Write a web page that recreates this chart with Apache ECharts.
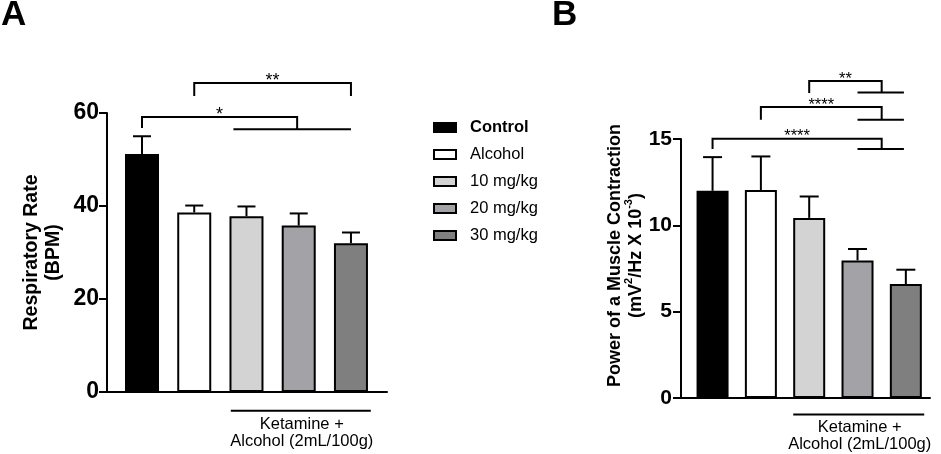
<!DOCTYPE html>
<html>
<head>
<meta charset="utf-8">
<script src="https://cdn.jsdelivr.net/npm/echarts@6/dist/echarts.min.js"></script>
<style>
html,body{margin:0;padding:0;background:#fff;}
#chart{width:941px;height:454px;}
</style>
</head>
<body>
<div id="chart"></div>
<script>
// ---------- data ----------
const categories = ['Control', 'Alcohol', '10 mg/kg', '20 mg/kg', '30 mg/kg'];
const respMean = [51.2, 38.6, 37.8, 35.8, 32.0];
const respSem = [3.8, 1.5, 2.1, 2.6, 2.3];
const powerMean = [12.0, 12.04, 10.43, 7.97, 6.6];
const powerSem = [1.95, 1.95, 1.24, 0.66, 0.83];
const respAxis = { min: 0, max: 60, interval: 20 };
const powerAxis = { min: 0, max: 15, interval: 5 };

// significance brackets (x in category index units, y in axis units)
const respBracketLeft = [1, 0];
const respBracketRight = [4, 2.97];
const respBracketTop = [66.45, 59.14];
const respBracketLeftEnd = [63.66, 56.77];
const respBracketRightEnd = [63.66, 56.5];
const respSubFrom = [null, 1.75];
const respSubTo = [null, 4.0];
const respBracketLabels = ['**', '*'];

const powerBracketLeft = [2, 1, 0];
const powerBracketRight = [3.5, 3.5, 3.5];
const powerBracketTop = [18.36, 16.85, 15.01];
const powerBracketLeftEnd = [17.67, 16.12, 14.42];
const powerBracketRightEnd = [17.70, 16.12, 14.42];
const powerSubFrom = [3, 3, 3];
const powerSubTo = [3.96, 3.96, 3.96];
const powerBracketLabels = ['**', '****', '****'];

const groupLabelText = 'Ketamine +\nAlcohol (2mL/100g)';
const respGroup = [1.70, 4.38, -4.02];
const powerGroup = [1.67, 4.38, -0.95];

// ---------- style ----------
const FONT = '"Liberation Sans", Arial, Helvetica, sans-serif';
const barColors = ['#000000', '#ffffff', '#d3d3d3', '#a3a2a6', '#7f7f7f'];

function errorSeries(g, means, sems, cap) {
  return {
    type: 'custom', xAxisIndex: g, yAxisIndex: g, z: 5, silent: true,
    encode: { x: 0, y: 1 },
    data: means.map((m, i) => [i, m, sems[i]]),
    renderItem: function (params, api) {
      const x = api.value(0), m = api.value(1), s = api.value(2);
      const p0 = api.coord([x, m]);
      const p1 = api.coord([x, m + s]);
      const st = { stroke: '#000', lineWidth: 2 };
      return {
        type: 'group', children: [
          { type: 'line', shape: { x1: p0[0], y1: p0[1], x2: p1[0], y2: p1[1] }, style: st },
          { type: 'line', shape: { x1: p1[0] - cap, y1: p1[1], x2: p1[0] + cap, y2: p1[1] }, style: st }
        ]
      };
    }
  };
}

function bracketSeries(g, L, R, T, LE, RE, SF, ST, labels, fs) {
  return {
    type: 'custom', xAxisIndex: g, yAxisIndex: g, z: 6, silent: true, clip: false,
    encode: { x: 0, y: 1 },
    data: L.map((l, i) => [l, T[i]]),
    renderItem: function (params, api) {
      const i = params.dataIndex;
      const a = api.coord([L[i], LE[i]]);
      const b = api.coord([L[i], T[i]]);
      const c = api.coord([R[i], T[i]]);
      const d = api.coord([R[i], RE[i]]);
      const st = { stroke: '#000', lineWidth: 2, fill: null };
      const children = [
        { type: 'polyline', shape: { points: [a, b, c, d] }, style: st }
      ];
      if (SF[i] !== null) {
        const e = api.coord([SF[i], RE[i]]);
        const f = api.coord([ST[i], RE[i]]);
        children.push({ type: 'line', shape: { x1: e[0], y1: e[1], x2: f[0], y2: f[1] }, style: st });
      }
      children.push({
        type: 'text',
        style: {
          text: labels[i], x: (b[0] + c[0]) / 2, y: b[1] - 2,
          align: 'center', verticalAlign: 'middle',
          fontSize: fs, fontFamily: FONT, fill: '#000'
        }
      });
      return { type: 'group', children: children };
    }
  };
}

function groupLabelSeries(g, grp) {
  return {
    type: 'custom', xAxisIndex: g, yAxisIndex: g, z: 6, silent: true, clip: false,
    encode: { x: 0, y: 2 },
    data: [grp],
    renderItem: function (params, api) {
      const a = api.coord([api.value(0), api.value(2)]);
      const b = api.coord([api.value(1), api.value(2)]);
      return {
        type: 'group', children: [
          { type: 'line', shape: { x1: a[0], y1: a[1], x2: b[0], y2: b[1] }, style: { stroke: '#000', lineWidth: 2 } },
          {
            type: 'text',
            style: {
              text: groupLabelText, x: (a[0] + b[0]) / 2 + 1, y: a[1] + 5,
              align: 'center', verticalAlign: 'top', lineHeight: 17,
              fontSize: 16.5, fontFamily: FONT, fill: '#000'
            }
          }
        ]
      };
    }
  };
}

const series = [];
[[respMean, 34], [powerMean, 32]].forEach(([means, bw], g) => {
  categories.forEach((name, k) => {
    series.push({
      name: name, type: 'bar', xAxisIndex: g, yAxisIndex: g,
      barWidth: bw, barGap: '-100%',
      data: [[k, means[k]]],
      itemStyle: { color: barColors[k], borderColor: '#000', borderWidth: 2 },
      silent: true
    });
  });
});
series.push(errorSeries(0, respMean, respSem, 9));
series.push(errorSeries(1, powerMean, powerSem, 9.5));
series.push(bracketSeries(0, respBracketLeft, respBracketRight, respBracketTop, respBracketLeftEnd, respBracketRightEnd, respSubFrom, respSubTo, respBracketLabels, 18));
series.push(bracketSeries(1, powerBracketLeft, powerBracketRight, powerBracketTop, powerBracketLeftEnd, powerBracketRightEnd, powerSubFrom, powerSubTo, powerBracketLabels, 16.5));
series.push(groupLabelSeries(0, respGroup));
series.push(groupLabelSeries(1, powerGroup));

const yAxisCommon = {
  type: 'value',
  splitLine: { show: false },
  axisLine: { show: true, onZero: false, lineStyle: { color: '#000', width: 2 } },
  axisTick: { show: true, length: 8, lineStyle: { color: '#000', width: 2 } },
  nameLocation: 'middle', nameRotate: 90
};
const xAxisCommon = {
  type: 'value',
  splitLine: { show: false },
  axisLine: { show: true, onZero: false, lineStyle: { color: '#000', width: 2 } },
  axisTick: { show: false },
  axisLabel: { show: false }
};

const option = {
  animation: false,
  backgroundColor: '#fff',
  title: [
    { text: 'A', left: 1, top: 0, padding: 0, textStyle: { fontSize: 35, fontWeight: 'bold', fontFamily: FONT, color: '#000', lineHeight: 30 } },
    { text: 'B', left: 552, top: 0, padding: 0, textStyle: { fontSize: 35, fontWeight: 'bold', fontFamily: FONT, color: '#000', lineHeight: 30 } }
  ],
  legend: {
    orient: 'vertical', left: 433, top: 118, padding: 0,
    itemWidth: 22, itemHeight: 9, itemGap: 8,
    icon: 'rect',
    data: categories,
    selectedMode: false,
    formatter: function (name) { return name === 'Control' ? '{b|' + name + '}' : '{n|' + name + '}'; },
    textStyle: {
      color: '#000', fontFamily: FONT, fontSize: 16.5, lineHeight: 19, padding: [0, 0, 0, 9],
      rich: {
        b: { fontWeight: 'bold', fontSize: 16.5, fontFamily: FONT, color: '#000', lineHeight: 19 },
        n: { fontSize: 16.5, fontFamily: FONT, color: '#000', lineHeight: 19 }
      }
    }
  },
  grid: [
    { left: 107, top: 113, width: 280, height: 279 },
    { left: 681, top: 139, width: 249, height: 259 }
  ],
  xAxis: [
    Object.assign({}, xAxisCommon, { gridIndex: 0, min: -0.67, max: 4.69 }),
    Object.assign({}, xAxisCommon, { gridIndex: 1, min: -0.653, max: 4.5 })
  ],
  yAxis: [
    Object.assign({}, yAxisCommon, {
      gridIndex: 0, min: respAxis.min, max: respAxis.max, interval: respAxis.interval,
      axisLabel: { color: '#000', fontSize: 23, fontWeight: 'bold', fontFamily: FONT, margin: 8 },
      name: 'Respiratory Rate\n(BPM)', nameGap: 42,
      nameTextStyle: { fontSize: 19.5, fontWeight: 'bold', fontFamily: FONT, color: '#000', lineHeight: 22, align: 'center' }
    }),
    Object.assign({}, yAxisCommon, {
      gridIndex: 1, min: powerAxis.min, max: powerAxis.max, interval: powerAxis.interval,
      axisLabel: { color: '#000', fontSize: 21, fontWeight: 'bold', fontFamily: FONT, margin: 9 },
      name: '{t|Power of a Muscle Contraction}\n{t|(mV}{s|2}{t|/Hz X 10}{s|-3}{t|)}', nameGap: 36,
      nameTextStyle: {
        fontSize: 18, fontWeight: 'bold', fontFamily: FONT, color: '#000', lineHeight: 21, align: 'center',
        padding: [0, 0, 0, 26],
        rich: {
          t: { fontSize: 18, fontWeight: 'bold', fontFamily: FONT, color: '#000', lineHeight: 21, verticalAlign: 'bottom' },
          s: { fontSize: 11, fontWeight: 'bold', fontFamily: FONT, color: '#000', lineHeight: 21, verticalAlign: 'top' }
        }
      }
    })
  ],
  series: series
};

const chart = echarts.init(document.getElementById('chart'), null, { renderer: 'canvas' });
chart.setOption(option);
</script>
</body>
</html>
